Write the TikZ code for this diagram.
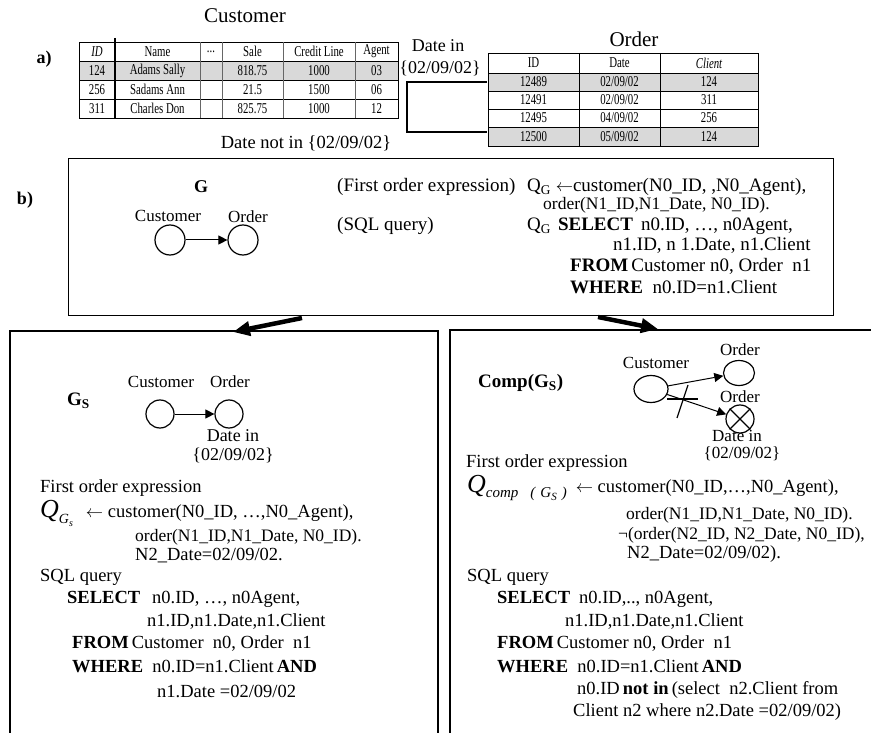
\documentclass[tikz,border=0pt]{standalone}
\usepackage{fontspec}
\setmainfont{Liberation Serif}
\newfontfamily\tabfont[FakeStretch=0.72]{Liberation Serif}
\usetikzlibrary{arrows.meta,shapes.geometric}
\newcommand{\bigQ}{{\fontsize{26}{26}\selectfont\itshape Q}}
\newcommand{\QGs}{\bigQ\raisebox{-6pt}{\fontsize{14}{14}\selectfont\itshape G\raisebox{-3pt}{\fontsize{10}{10}\selectfont s}}}
\newcommand{\Qcomp}{\bigQ\raisebox{-5pt}{\fontsize{15}{15}\selectfont\itshape comp\hspace{12pt}(\hspace{5pt}G\raisebox{-3pt}{\fontsize{11}{11}\selectfont S}\hspace{5pt})}}
\begin{document}
\begin{tikzpicture}[x=1pt,y=-1pt,
  txt/.style={anchor=west, inner sep=0pt, font=\fontsize{18.5}{21}\selectfont},
  txtb/.style={anchor=west, inner sep=0pt, font=\fontsize{19}{21}\selectfont},
  ordl/.style={anchor=west, inner sep=0pt, font=\fontsize{17.5}{20}\selectfont},
  lbl/.style={anchor=center, inner sep=0pt, font=\fontsize{17}{20}\selectfont},
  ctxt/.style={anchor=center, inner sep=0pt, font=\fontsize{18}{21}\selectfont},
  bold/.style={anchor=west, inner sep=0pt, font=\fontsize{19}{21}\selectfont\bfseries},
  title/.style={anchor=center, inner sep=0pt, font=\fontsize{21}{24}\selectfont},
  tcell/.style={anchor=center, inner sep=0pt, font=\tabfont\fontsize{15}{15}\selectfont},
  ent/.style={circle, draw, line width=1.2pt, minimum size=29pt, inner sep=0pt},
  eent/.style={ellipse, draw, line width=1.2pt, inner sep=0pt},
  rel/.style={line width=1pt, -{Triangle[length=9pt,width=9pt]}},
  bigarrow/.style={line width=4.5pt, -{Triangle[length=17pt,width=14pt]}},
  frame/.style={line width=1.3pt},
  grid/.style={line width=0.8pt},
  graygrid/.style={line width=0.6pt, black!60},
]
\useasboundingbox (0,0) rectangle (871,733);

% ---------- a) ----------
\node[title] (custtitle) at (245,16) {Customer};
\node[anchor=center, inner sep=0pt, font=\fontsize{18}{20}\selectfont\bfseries] (la) at (44,59) {a)};

% Customer table
\fill[black!15] (79,61) rectangle (398,80);
\draw[grid] (79,42) rectangle (398,118);
\foreach \yy in {61,80,99} \draw[grid] (79,\yy) -- (398,\yy);
\foreach \xx in {200,222,283,355} \draw[graygrid] (\xx,42) -- (\xx,118);
\draw[line width=1.2pt] (115,38) -- (115,118);
\node[tcell] (ch1) at (97,51.5) {\itshape ID};
\node[tcell] (ch2) at (157.5,51.5) {Name};
\node[tcell] (ch3) at (211,51.5) {...};
\node[tcell] (ch4) at (252.5,51.5) {Sale};
\node[tcell] (ch5) at (319,51.5) {Credit Line};
\node[tcell] (ch6) at (376.5,51.5) {Agent};
\foreach [count=\i] \y/\a/\b/\c/\d/\e in {70.5/124/Adams Sally/818.75/1000/03, 89.5/256/Sadams Ann/21.5/1500/06, 108.5/311/Charles Don/825.75/1000/12} {
  \node[tcell] (cua\i) at (97,\y) {\a};
  \node[tcell] (cub\i) at (157.5,\y) {\b};
  \node[tcell] (cuc\i) at (252.5,\y) {\c};
  \node[tcell] (cud\i) at (319,\y) {\d};
  \node[tcell] (cue\i) at (376.5,\y) {\e};
}

% Order table
\node[title] (ordtitle) at (634,39) {Order};
\fill[black!15] (488,73) rectangle (758,91);
\fill[black!15] (488,127) rectangle (758,146);
\draw[grid] (488,53) rectangle (758,146);
\foreach \yy in {73,91,109,127} \draw[grid] (488,\yy) -- (758,\yy);
\foreach \xx in {579,660} \draw[grid] (\xx,53) -- (\xx,146);
\node[tcell] (oh1) at (533.5,63) {ID};
\node[tcell] (oh2) at (619.5,63) {Date};
\node[tcell] (oh3) at (709,63) {\itshape Client};
\node[tcell] (oa1) at (533.5,82) {12489};
\node[tcell] (ob1) at (619.5,82) {02/09/02};
\node[tcell] (oc1) at (709,82) {124};
\node[tcell] (oa2) at (533.5,100) {12491};
\node[tcell] (ob2) at (619.5,100) {02/09/02};
\node[tcell] (oc2) at (709,100) {311};
\node[tcell] (oa3) at (533.5,118) {12495};
\node[tcell] (ob3) at (619.5,118) {04/09/02};
\node[tcell] (oc3) at (709,118) {256};
\node[tcell] (oa4) at (533.5,136.5) {12500};
\node[tcell] (ob4) at (619.5,136.5) {05/09/02};
\node[tcell] (oc4) at (709,136.5) {124};

% bracket
\coordinate (brA) at (487,82);
\coordinate (brB) at (407,82);
\coordinate (brC) at (407,132);
\coordinate (brD) at (487,132);
\draw[line width=1.2pt] (brA) -- (brB) -- (brC) -- (brD);
\node[ctxt] (datein) at (438,46) {Date in};
\node[ctxt] (dateinv) at (440,68) {\{02/09/02\}};
\node[ctxt, font=\fontsize{18.5}{21}\selectfont] (datenot) at (306,143) {Date not in \{02/09/02\}};

% ---------- b) ----------
\node[anchor=center, inner sep=0pt, font=\fontsize{18}{20}\selectfont\bfseries] (lb) at (25,200) {b)};
\node[draw, frame, anchor=north west, inner sep=0pt, minimum width=765pt, minimum height=157pt] (boxb) at (68,158) {};
\node[anchor=center, inner sep=0pt, font=\fontsize{18}{20}\selectfont\bfseries] (gG) at (201,187) {G};
\node[lbl] (gcust) at (168,216) {Customer};
\node[lbl] (gord) at (248,217) {Order};
\node[ent, minimum size=30pt] (cG) at (170,240) {};
\node[ent, minimum size=30pt] (oG) at (243,240) {};
\draw[rel] (cG) -- (oG);

\node[txtb] (foe) at (337,187) {(First order expression)};
\node[txtb] (qg1) at (527,187) {Q\textsubscript{G} $\leftarrow$customer(N0\_ID, ,N0\_Agent),};
\node[txtb, font=\fontsize{17.5}{20}\selectfont] (qg2) at (543,205) {order(N1\_ID,N1\_Date, N0\_ID).};
\node[txtb] (sqlq) at (337,226) {(SQL query)};
\node[txtb] (qg3) at (527,226) {Q\textsubscript{G}\hspace{7pt}\textbf{SELECT}\hspace{8pt}n0.ID, …, n0Agent,};
\node[txtb] (qg4) at (613,245) {n1.ID, n 1.Date, n1.Client};
\node[txtb] (qg5) at (570,266) {\textbf{FROM}\,Customer n0, Order\ \ n1};
\node[txtb] (qg6) at (570,287) {\textbf{WHERE}\ \ n0.ID=n1.Client};

% big arrows
\coordinate (bl1) at (302,318);
\coordinate (bl2) at (233,332);
\coordinate (br1) at (598,317);
\coordinate (br2) at (658,329);
\draw[bigarrow] (bl1) -- (bl2);
\draw[bigarrow] (br1) -- (br2);

% ---------- lower left box ----------
\coordinate (L1) at (10,733);
\coordinate (L2) at (10,331);
\coordinate (L3) at (438,331);
\coordinate (L4) at (438,733);
\draw[frame] (L1) -- (L2) -- (L3) -- (L4);

\node[bold] (gs) at (67,401) {G\textsubscript{S}};
\node[lbl] (scust) at (161,382) {Customer};
\node[lbl] (sord) at (230,382) {Order};
\node[ent, minimum size=28pt] (cS) at (160,414) {};
\node[ent, minimum size=28pt] (oS) at (229,414) {};
\draw[rel] (cS) -- (oS);
\node[ctxt] (sdin) at (233,436) {Date in};
\node[ctxt] (sdv) at (233,455) {\{02/09/02\}};
\node[txt] (sfoe) at (40,488) {First order expression};
\node[txt] (sq1) at (40,513) {\QGs\hspace{13pt}$\leftarrow$ customer(N0\_ID, …,N0\_Agent),};
\node[ordl] (sq2) at (135,537) {order(N1\_ID,N1\_Date, N0\_ID).};
\node[txt] (sq3) at (135,556) {N2\_Date=02/09/02.};
\node[txt] (ssql) at (40,577) {SQL query};
\node[txt] (ss1) at (67,599) {\textbf{SELECT}\hspace{12pt}n0.ID, …, n0Agent,};
\node[txt] (ss2) at (147,622) {n1.ID,n1.Date,n1.Client};
\node[txt] (ss3) at (72,644) {\textbf{FROM}\,Customer\ \ n0, Order\ \ n1};
\node[txt] (ss4) at (72,666) {\textbf{WHERE}\ \ n0.ID=n1.Client\,\textbf{AND}};
\node[txt] (ss5) at (157,691) {n1.Date =02/09/02};

% ---------- lower right box ----------
\coordinate (R1) at (450,733);
\coordinate (R2) at (450,330);
\coordinate (R3) at (871,330);
\draw[frame] (R1) -- (R2) -- (R3);

\node[bold] (comp) at (478,383) {Comp(G\textsubscript{S})};
\node[lbl] (rcust) at (656,363) {Customer};
\node[lbl] (rord1) at (740,350) {Order};
\node[lbl] (rord2) at (740,397) {Order};
\node[eent, minimum width=34pt, minimum height=27pt] (cR) at (651,389) {};
\node[eent, minimum width=31pt, minimum height=25pt] (oR1) at (739,373) {};
\node[ent, minimum size=28pt] (oR2) at (740,419) {};
\draw[line width=1.2pt] (oR2.north east) -- (oR2.south west) (oR2.north west) -- (oR2.south east);
\draw[rel] (cR) -- (oR1);
\draw[rel] (cR) -- (oR2);
\coordinate (xh1) at (667,399);
\coordinate (xh2) at (698,399);
\coordinate (xs1) at (677,418);
\coordinate (xs2) at (688,385);
\draw[line width=1.2pt] (xh1) -- (xh2);
\draw[line width=1.2pt] (xs1) -- (xs2);
\node[lbl] (rdin) at (737,436) {Date in};
\node[lbl] (rdv) at (742,454) {\{02/09/02\}};
\node[txt] (rfoe) at (466,463) {First order expression};
\node[txt] (rq1) at (467,488) {\Qcomp\hspace{9pt}$\leftarrow$ customer(N0\_ID,…,N0\_Agent),};
\node[ordl] (rq2) at (626,515) {order(N1\_ID,N1\_Date, N0\_ID).};
\node[ordl] (rq3) at (618,535) {¬(order(N2\_ID, N2\_Date, N0\_ID),};
\node[txt] (rq4) at (627,554) {N2\_Date=02/09/02).};
\node[txt] (rsql) at (467,577) {SQL query};
\node[txt] (rs1) at (497,599) {\textbf{SELECT}\hspace{9pt}n0.ID,.., n0Agent,};
\node[txt] (rs2) at (565,622) {n1.ID,n1.Date,n1.Client};
\node[txt] (rs3) at (497,644) {\textbf{FROM}\,Customer n0, Order\ \ n1};
\node[txt] (rs4) at (497,666) {\textbf{WHERE}\ \ n0.ID=n1.Client\,\textbf{AND}};
\node[txt] (rs5) at (577,690) {n0.ID\,\textbf{not in}\,(select\ \ n2.Client from};
\node[txt] (rs6) at (573,712) {Client n2 where n2.Date =02/09/02)};
\end{tikzpicture}
\end{document}
